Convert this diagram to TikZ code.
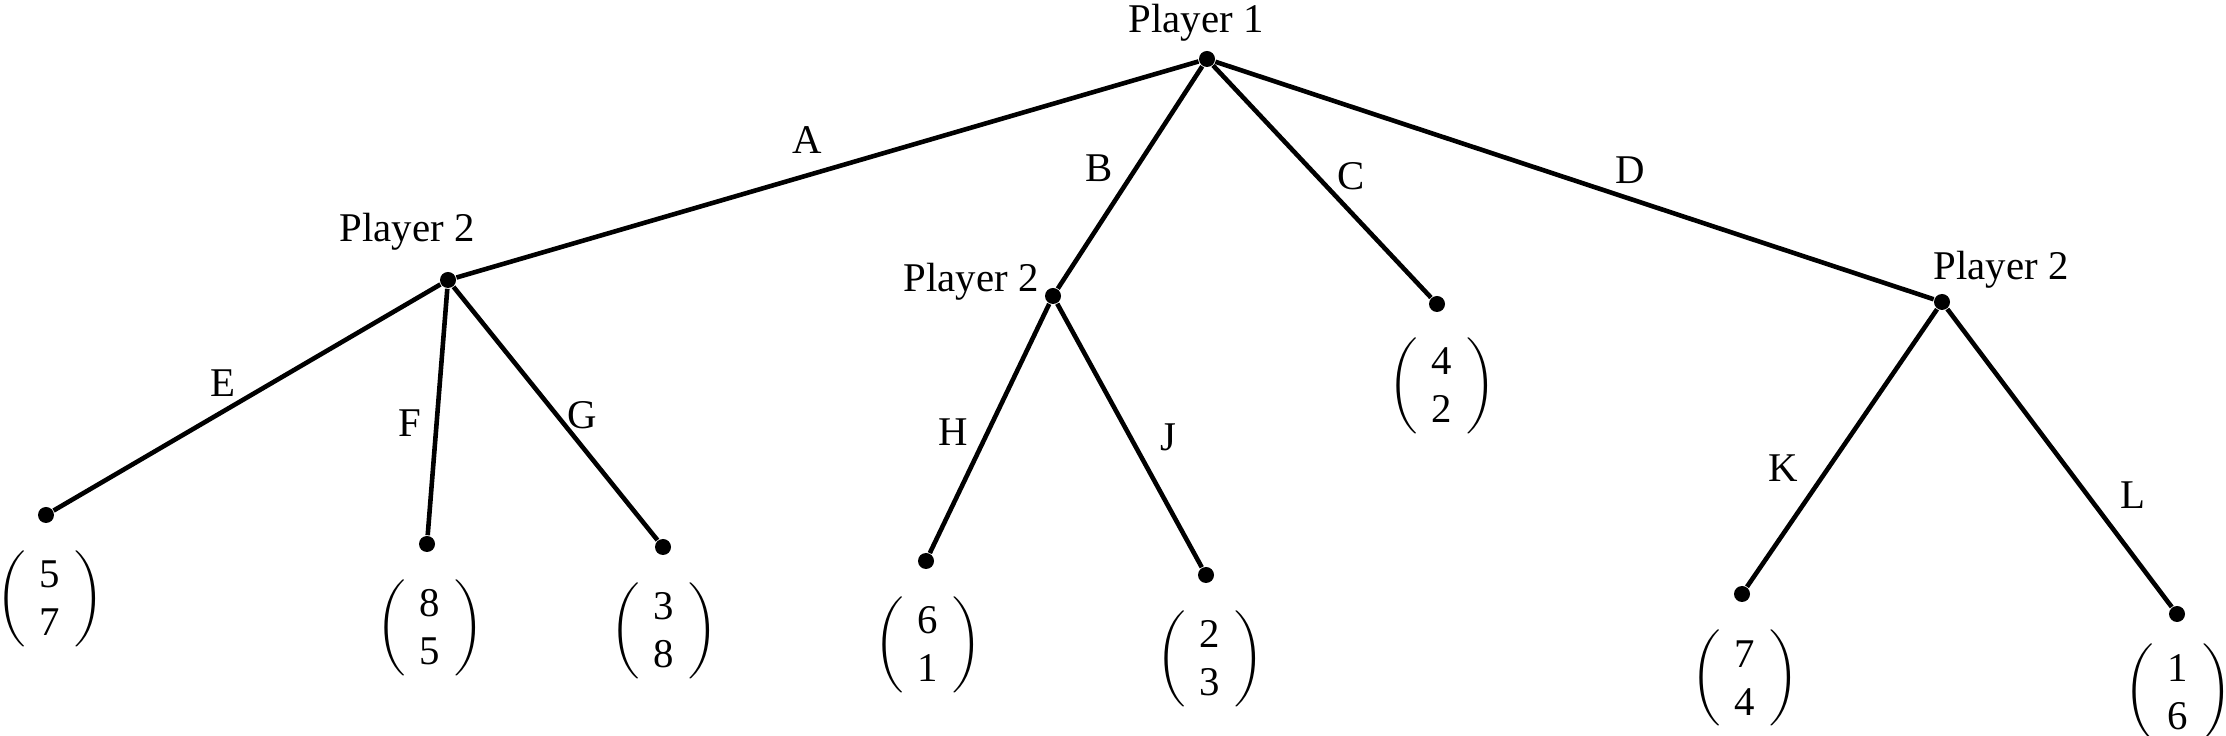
\documentclass[tikz,border=0pt]{standalone}
\usepackage{fontspec}
\setmainfont{Liberation Serif}
\begin{document}
\begin{tikzpicture}[x=0.25pt,y=-0.25pt,
  dotnode/.style={circle,fill=black,inner sep=0pt,minimum size=4pt},
  branch/.style={line width=1.15pt},
  lab/.style={font=\fontsize{10.2}{12}\selectfont,inner sep=0pt},
  player/.style={font=\fontsize{10.2}{12}\selectfont,inner sep=0pt,anchor=base},
  payoff/.style={font=\fontsize{10.2}{12}\selectfont,inner sep=0pt}]
\useasboundingbox (0,0) rectangle (2226,736);
\newcommand{\pay}[2]{$\left(\vcenter{\hbox{\begin{tabular}{@{\hspace{3.5pt}}c@{\hspace{3.5pt}}}\rule{0pt}{10.5pt}#1\\#2\rule[-4pt]{0pt}{4pt}\end{tabular}}}\right)$}
% decision nodes
\node[dotnode] (r) at (1207,59) {};
\node[dotnode] (p2a) at (448,280) {};
\node[dotnode] (p2b) at (1053,296) {};
\node[dotnode] (p2d) at (1942,302) {};
% leaves
\node[dotnode] (c) at (1437,304) {};
\node[dotnode] (e) at (46,515) {};
\node[dotnode] (f) at (427,544) {};
\node[dotnode] (g) at (663,547) {};
\node[dotnode] (h) at (926,561) {};
\node[dotnode] (j) at (1206,575) {};
\node[dotnode] (k) at (1742,594) {};
\node[dotnode] (l) at (2177,614) {};
% player labels
\node[player] (t1) at (1196,33) {Player 1};
\node[player] (t2a) at (407,242) {Player 2};
\node[player] (t2b) at (971,292) {Player 2};
\node[player] (t2d) at (2001,280) {Player 2};
% branches
\draw[branch] (r) -- (p2a);
\draw[branch] (r) -- (p2b);
\draw[branch] (r) -- (c);
\draw[branch] (r) -- (p2d);
\draw[branch] (p2a) -- (e);
\draw[branch] (p2a) -- (f);
\draw[branch] (p2a) -- (g);
\draw[branch] (p2b) -- (h);
\draw[branch] (p2b) -- (j);
\draw[branch] (p2d) -- (k);
\draw[branch] (p2d) -- (l);
% branch labels
\node[lab] (la) at (807,140) {A};
\node[lab] (lb) at (1099,168) {B};
\node[lab] (lc) at (1351,176) {C};
\node[lab] (ld) at (1630,170) {D};
\node[lab] (le) at (223,383) {E};
\node[lab] (lf) at (410,423) {F};
\node[lab] (lg) at (582,415) {G};
\node[lab] (lh) at (953,432) {H};
\node[lab] (lj) at (1168,437) {J};
\node[lab] (lk) at (1783,468) {K};
\node[lab] (ll) at (2133,495) {L};
% payoffs
\node[payoff] (pe) at (50,599) {\pay{5}{7}};
\node[payoff] (pf) at (430,628) {\pay{8}{5}};
\node[payoff] (pg) at (664,631) {\pay{3}{8}};
\node[payoff] (ph) at (928,645) {\pay{6}{1}};
\node[payoff] (pj) at (1210,659) {\pay{2}{3}};
\node[payoff] (pc) at (1442,386) {\pay{4}{2}};
\node[payoff] (pk) at (1745,678) {\pay{7}{4}};
\node[payoff] (pl) at (2178,692) {\pay{1}{6}};
\end{tikzpicture}
\end{document}
